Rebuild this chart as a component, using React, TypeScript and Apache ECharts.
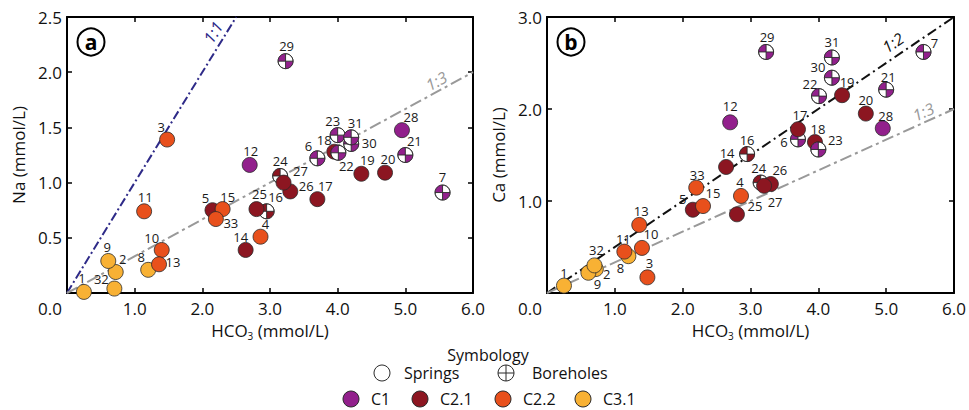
import React, { useEffect, useRef } from 'react';
import * as echarts from 'echarts';

const FONT = '"Open Sans", "DejaVu Sans", sans-serif';

// ---- Data ----
const sampleIds = [1, 2, 3, 4, 5, 6, 7, 8, 9, 10, 11, 12, 13, 14, 15, 16, 17, 18, 19, 20, 21, 22, 23, 24, 25, 26, 27, 28, 29, 30, 31, 32, 33];
const hco3 = [0.25, 0.72, 1.48, 2.86, 2.15, 3.70, 5.55, 1.20, 0.61, 1.40, 1.14, 2.70, 1.36, 2.64, 2.30, 2.95, 3.70, 3.95, 4.35, 4.70, 5.00, 4.01, 4.00, 3.15, 2.80, 3.30, 3.20, 4.95, 3.23, 4.20, 4.20, 0.70, 2.20];
const na = [0.01, 0.19, 1.39, 0.51, 0.75, 1.22, 0.91, 0.21, 0.29, 0.39, 0.74, 1.16, 0.26, 0.39, 0.76, 0.74, 0.85, 1.28, 1.08, 1.09, 1.25, 1.27, 1.43, 1.06, 0.76, 0.92, 1.00, 1.475, 2.10, 1.35, 1.41, 0.04, 0.67];
const ca = [0.08, 0.26, 0.17, 1.055, 0.905, 1.67, 2.62, 0.40, 0.22, 0.49, 0.45, 1.855, 0.74, 1.37, 0.945, 1.51, 1.78, 1.64, 2.15, 1.95, 2.21, 2.14, 1.56, 1.20, 0.855, 1.185, 1.165, 1.79, 2.62, 2.34, 2.56, 0.30, 1.145];
const clusters = ['C3.1', 'C3.1', 'C2.2', 'C2.2', 'C2.1', 'C1', 'C1', 'C3.1', 'C3.1', 'C2.2', 'C2.2', 'C1', 'C2.2', 'C2.1', 'C2.2', 'C2.1', 'C2.1', 'C2.1', 'C2.1', 'C2.1', 'C1', 'C1', 'C1', 'C2.1', 'C2.1', 'C2.1', 'C2.1', 'C1', 'C1', 'C1', 'C1', 'C3.1', 'C2.2'];
const siteTypes = ['S', 'S', 'S', 'S', 'S', 'B', 'B', 'S', 'S', 'S', 'S', 'S', 'S', 'S', 'S', 'B', 'S', 'S', 'S', 'S', 'B', 'B', 'B', 'B', 'S', 'S', 'S', 'S', 'B', 'B', 'B', 'S', 'S'];

const clusterNames = ['C1', 'C2.1', 'C2.2', 'C3.1'];
const clusterColors: Record<string, string> = { C1: '#92208C', 'C2.1': '#8C1621', 'C2.2': '#E8501C', 'C3.1': '#F8B134' };

const xTickLabels = ['0.0', '1.0', '2.0', '3.0', '4.0', '5.0', '6.0'];

// reference lines
const refLinesA = [
  { name: '1:1', ratio: 1, xEnd: 2.5, color: '#2E2A88', dash: [9, 3, 2, 3], labelAt: [2.16, 2.36] },
  { name: '1:3', ratio: 1 / 3, xEnd: 6, color: '#999999', dash: [12, 4, 3, 4], labelAt: [5.46, 1.92] },
];
const refLinesB = [
  { name: '1:2', ratio: 1 / 2, xEnd: 6, color: '#111111', dash: [10, 4, 2, 4], labelAt: [5.10, 2.72] },
  { name: '1:3', ratio: 1 / 3, xEnd: 6, color: '#999999', dash: [12, 4, 3, 4], labelAt: [5.55, 1.97] },
];

// label offsets (px) relative to point centre
const labelOffsetA: Record<number, [number, number]> = {
  1: [-2, -14], 2: [7, -13], 3: [-6, -13], 4: [5, -13], 5: [-7, -12], 6: [-9, -12], 7: [0, -16], 8: [-7, -13],
  9: [-1, -14], 10: [-10, -12], 11: [1, -14], 12: [1, -14], 13: [14, -2], 14: [-5, -13], 15: [5, -12], 16: [9, -14],
  17: [8, -13], 18: [-10, -12], 19: [6, -14], 20: [3, -14], 21: [9, -14], 22: [8, 13], 23: [-5, -14], 24: [0, -15],
  25: [3, -15], 26: [16, -5], 27: [17, -12], 28: [9, -13], 29: [1, -15], 30: [18, -1], 31: [4, -14], 32: [-13, -10], 33: [15, 4],
};
const labelOffsetB: Record<number, [number, number]> = {
  1: [0, -13], 2: [11, 5], 3: [2, -14], 4: [-1, -14], 5: [-10, -11], 6: [-14, 3], 7: [11, -9], 8: [-8, 12],
  9: [9, 11], 10: [9, -14], 11: [-1, -13], 12: [0, -16], 13: [2, -14], 14: [1, -14], 15: [10, -13], 16: [0, -14],
  17: [2, -14], 18: [3, -13], 19: [5, -13], 20: [0, -14], 21: [2, -13], 22: [-9, -12], 23: [17, -9], 24: [-2, -15],
  25: [18, -8], 26: [9, -14], 27: [11, 16], 28: [3, -12], 29: [1, -15], 30: [-14, -11], 31: [0, -15], 32: [2, -15], 33: [1, -13],
};

const R = 7.5;
const STROKE = '#2a2a2a';

function markerRender(params: any, api: any) {
  const idx = api.value(2);
  const p = api.coord([api.value(0), api.value(1)]);
  const cx = p[0];
  const cy = p[1];
  const color = clusterColors[clusters[idx]];
  if (siteTypes[idx] === 'S') {
    return { type: 'circle', shape: { cx, cy, r: R }, style: { fill: color, stroke: STROKE, lineWidth: 0.8 } };
  }
  return {
    type: 'group',
    children: [
      { type: 'circle', shape: { cx, cy, r: R }, style: { fill: '#ffffff', stroke: STROKE, lineWidth: 0.8 } },
      { type: 'sector', shape: { cx, cy, r0: 0, r: R, startAngle: Math.PI, endAngle: 1.5 * Math.PI, clockwise: true }, style: { fill: color } },
      { type: 'sector', shape: { cx, cy, r0: 0, r: R, startAngle: 0, endAngle: 0.5 * Math.PI, clockwise: true }, style: { fill: color } },
      { type: 'line', shape: { x1: cx - R, y1: cy, x2: cx + R, y2: cy }, style: { stroke: STROKE, lineWidth: 0.9 } },
      { type: 'line', shape: { x1: cx, y1: cy - R, x2: cx, y2: cy + R }, style: { stroke: STROKE, lineWidth: 0.9 } },
      { type: 'circle', shape: { cx, cy, r: R }, style: { fill: 'none', stroke: STROKE, lineWidth: 0.8 } },
    ],
  };
}

function labelRender(offsets: Record<number, [number, number]>) {
  return (params: any, api: any) => {
    const idx = api.value(2);
    const p = api.coord([api.value(0), api.value(1)]);
    const off = offsets[sampleIds[idx]] || [0, -14];
    return {
      type: 'text',
      x: p[0] + off[0],
      y: p[1] + off[1],
      style: {
        text: String(sampleIds[idx]),
        fill: '#1a1a1a',
        font: `13px ${FONT}`,
        align: 'center',
        verticalAlign: 'middle',
        textAlign: 'center',
        textVerticalAlign: 'middle',
      },
    };
  };
}

const axisCommon = {
  axisLine: { show: true, onZero: false, lineStyle: { color: '#000', width: 2 } },
  axisTick: { show: true, inside: true, length: 5, lineStyle: { color: '#000', width: 1.5 } },
  splitLine: { show: false },
};

const nameRich = {
  a: { fontSize: 17, fontFamily: FONT, color: '#111', lineHeight: 22 },
  s: { fontSize: 10, fontFamily: FONT, color: '#111', lineHeight: 10, verticalAlign: 'bottom' },
};

function makeXAxes(gridIndex: number) {
  return [
    {
      gridIndex, type: 'value', min: 0, max: 6, interval: 1, position: 'bottom', ...axisCommon,
      axisLabel: { showMinLabel: false, margin: 7, fontSize: 17, color: '#111', fontFamily: FONT, formatter: (v: number) => xTickLabels[Math.round(v)] },
      name: '{a|HCO}{s|3}{a| (mmol/L)}', nameLocation: 'middle', nameGap: 24,
      nameTextStyle: { rich: nameRich },
    },
    {
      gridIndex, type: 'value', min: 0, max: 6, interval: 1, position: 'top', ...axisCommon,
      axisLabel: { show: false },
    },
  ];
}

function makeYAxes(gridIndex: number, max: number, interval: number, name: string) {
  return [
    {
      gridIndex, type: 'value', min: 0, max, interval, position: 'left', ...axisCommon,
      axisLabel: { showMinLabel: false, margin: 5, fontSize: 17, color: '#111', fontFamily: FONT, formatter: (v: number) => v.toFixed(1) },
      name, nameLocation: 'middle', nameGap: 40,
      nameTextStyle: { fontSize: 17, fontFamily: FONT, color: '#111' },
    },
    {
      gridIndex, type: 'value', min: 0, max, interval, position: 'right', ...axisCommon,
      axisLabel: { show: false },
    },
  ];
}

function refSeries(lines: any[], xAxisIndex: number, yAxisIndex: number) {
  return lines.map((l) => ({
    type: 'line',
    xAxisIndex, yAxisIndex,
    data: [[0, 0], [l.xEnd, l.xEnd * l.ratio]],
    showSymbol: false,
    symbol: 'none',
    silent: true,
    z: 1,
    lineStyle: { color: l.color, width: 2, type: l.dash },
  }));
}

const legendY1 = 373;
const legendY2 = 399;

function legendGraphics() {
  const els: any[] = [];
  els.push({ type: 'text', x: 488, y: 355, style: { text: 'Symbology', font: `16px ${FONT}`, fill: '#111', align: 'center', verticalAlign: 'middle', textAlign: 'center', textVerticalAlign: 'middle' } });
  els.push({ type: 'circle', shape: { cx: 382, cy: legendY1, r: 8 }, style: { fill: '#fff', stroke: STROKE, lineWidth: 1 } });
  els.push({ type: 'text', x: 404, y: legendY1, style: { text: 'Springs', font: `16px ${FONT}`, fill: '#111', align: 'left', verticalAlign: 'middle', textAlign: 'left', textVerticalAlign: 'middle' } });
  els.push({ type: 'circle', shape: { cx: 506, cy: legendY1, r: 8 }, style: { fill: '#fff', stroke: STROKE, lineWidth: 1 } });
  els.push({ type: 'line', shape: { x1: 498, y1: legendY1, x2: 514, y2: legendY1 }, style: { stroke: STROKE, lineWidth: 1 } });
  els.push({ type: 'line', shape: { x1: 506, y1: legendY1 - 8, x2: 506, y2: legendY1 + 8 }, style: { stroke: STROKE, lineWidth: 1 } });
  els.push({ type: 'text', x: 532, y: legendY1, style: { text: 'Boreholes', font: `16px ${FONT}`, fill: '#111', align: 'left', verticalAlign: 'middle', textAlign: 'left', textVerticalAlign: 'middle' } });
  const cxs = [351, 420, 503, 583];
  clusterNames.forEach((c, i) => {
    els.push({ type: 'circle', shape: { cx: cxs[i], cy: legendY2, r: 8 }, style: { fill: clusterColors[c], stroke: STROKE, lineWidth: 1 } });
    els.push({ type: 'text', x: cxs[i] + 20, y: legendY2, style: { text: c, font: `16px ${FONT}`, fill: '#111', align: 'left', verticalAlign: 'middle', textAlign: 'left', textVerticalAlign: 'middle' } });
  });
  return els;
}

function panelLetter(cx: number, cy: number, letter: string) {
  return [
    { type: 'circle', shape: { cx, cy, r: 13.5 }, style: { fill: '#fff', stroke: '#000', lineWidth: 2 }, z: 10 },
    { type: 'text', x: cx, y: cy, z: 11, style: { text: letter, font: `bold 21px ${FONT}`, fill: '#000', align: 'center', verticalAlign: 'middle', textAlign: 'center', textVerticalAlign: 'middle' } },
  ];
}

export default function App() {
  const ref = useRef<HTMLDivElement>(null);
  useEffect(() => {
    if (!ref.current) return;
    const chart = echarts.init(ref.current, undefined, { renderer: 'svg' });
    const dataA = hco3.map((x, i) => [x, na[i], i]);
    const dataB = hco3.map((x, i) => [x, ca[i], i]);
    const option: any = {
      animation: false,
      backgroundColor: '#ffffff',
      grid: [
        { left: 67, top: 17, width: 406, height: 276 },
        { left: 547, top: 17, width: 407, height: 276 },
      ],
      xAxis: [...makeXAxes(0), ...makeXAxes(1)],
      yAxis: [...makeYAxes(0, 2.5, 0.5, 'Na (mmol/L)'), ...makeYAxes(1, 3, 1, 'Ca (mmol/L)')],
      series: [
        ...refSeries(refLinesA, 0, 0),
        ...refSeries(refLinesB, 2, 2),
        { type: 'custom', xAxisIndex: 0, yAxisIndex: 0, data: dataA, encode: { x: 0, y: 1 }, renderItem: markerRender, silent: true, z: 3, clip: false },
        { type: 'custom', xAxisIndex: 0, yAxisIndex: 0, data: dataA, encode: { x: 0, y: 1 }, renderItem: labelRender(labelOffsetA), silent: true, z: 4, clip: false },
        { type: 'custom', xAxisIndex: 2, yAxisIndex: 2, data: dataB, encode: { x: 0, y: 1 }, renderItem: markerRender, silent: true, z: 3, clip: false },
        { type: 'custom', xAxisIndex: 2, yAxisIndex: 2, data: dataB, encode: { x: 0, y: 1 }, renderItem: labelRender(labelOffsetB), silent: true, z: 4, clip: false },
      ],
    };
    chart.setOption(option);

    const lineLabels: any[] = [];
    const addLineLabels = (lines: any[], gridIndex: number) => {
      lines.forEach((l) => {
        const p0 = chart.convertToPixel({ gridIndex } as any, [0, 0]) as number[];
        const p1 = chart.convertToPixel({ gridIndex } as any, [l.xEnd, l.xEnd * l.ratio]) as number[];
        const pos = chart.convertToPixel({ gridIndex } as any, l.labelAt) as number[];
        const rot = Math.atan2(p0[1] - p1[1], p1[0] - p0[0]);
        lineLabels.push({
          type: 'text', x: pos[0], y: pos[1], rotation: rot, z: 5,
          style: { text: l.name, font: `italic 16px ${FONT}`, fill: l.color, align: 'center', verticalAlign: 'middle', textAlign: 'center', textVerticalAlign: 'middle' },
        });
      });
    };
    addLineLabels(refLinesA, 0);
    addLineLabels(refLinesB, 1);

    const zeroLabels = [62, 542].map((x) => ({
      type: 'text', x, y: 308,
      style: { text: xTickLabels[0], font: `17px ${FONT}`, fill: '#111', align: 'right', verticalAlign: 'middle', textAlign: 'right', textVerticalAlign: 'middle' },
    }));

    chart.setOption({
      graphic: [
        ...lineLabels,
        ...zeroLabels,
        ...panelLetter(91, 42, 'a'),
        ...panelLetter(571, 42, 'b'),
        ...legendGraphics(),
      ],
    });
    return () => chart.dispose();
  }, []);
  return <div ref={ref} style={{ position: 'fixed', left: 0, top: 0, width: 969, height: 410 }} />;
}
